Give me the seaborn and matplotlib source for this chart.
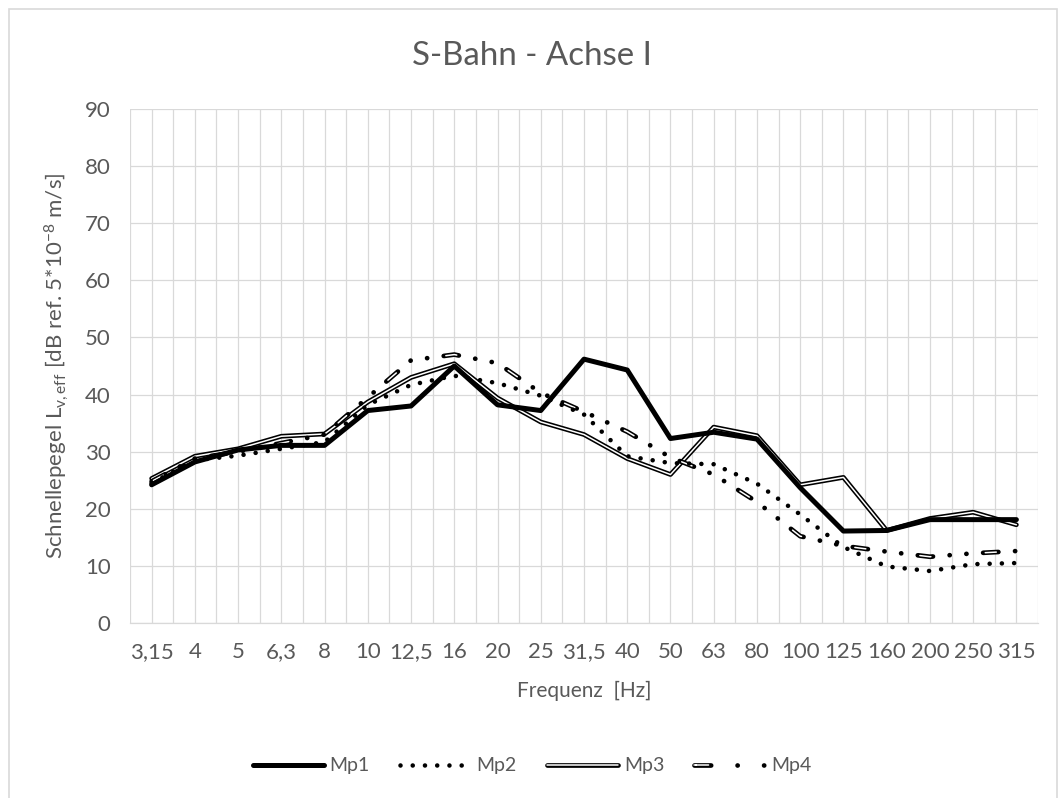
import pandas as pd
import matplotlib
matplotlib.use("Agg")
import matplotlib.pyplot as plt
import seaborn as sns
from matplotlib.lines import Line2D
from matplotlib.patches import Rectangle
from matplotlib.ticker import FixedLocator
from matplotlib.legend_handler import HandlerTuple

# Terzband-Mittenfrequenzen und Messwerte
freq = ["3,15", "4", "5", "6,3", "8", "10", "12,5", "16", "20", "25", "31,5",
        "40", "50", "63", "80", "100", "125", "160", "200", "250", "315"]
mp1 = [24.2, 28.2, 30.3, 31.1, 31.1, 37.2, 38.0, 45.0, 38.2, 37.2, 46.2,
       44.3, 32.3, 33.4, 32.2, 23.7, 16.1, 16.2, 18.1, 18.1, 18.1]
mp2 = [24.5, 28.5, 29.3, 30.5, 31.7, 38.2, 41.7, 43.3, 42.0, 39.8, 36.5,
       29.2, 28.0, 27.8, 24.4, 19.0, 13.3, 9.9, 9.1, 10.3, 10.5]
mp3 = [25.3, 29.2, 30.5, 32.7, 33.1, 38.7, 43.0, 45.4, 39.4, 35.2, 33.0,
       28.8, 26.0, 34.3, 32.8, 24.2, 25.5, 16.2, 18.3, 19.4, 17.2]
mp4 = [24.8, 28.8, 30.0, 31.5, 33.0, 39.5, 46.0, 47.0, 45.5, 40.3, 37.0,
       33.5, 29.0, 26.0, 21.2, 15.2, 13.5, 12.5, 11.6, 12.2, 12.6]

df = pd.DataFrame({"Frequenz": freq, "Mp1": mp1, "Mp2": mp2, "Mp3": mp3, "Mp4": mp4})

sns.set_theme(style="white")
plt.rcParams['font.family'] = ['Lato', 'DejaVu Sans']
plt.rcParams['mathtext.fontset'] = 'custom'
plt.rcParams['mathtext.rm'] = 'Lato'
plt.rcParams['mathtext.it'] = 'Lato:italic'
plt.rcParams['lines.scale_dashes'] = False

grey = '#595959'
gridc = '#d9d9d9'

# Linienstile (Excel-Nachbau)
period4 = 11 + 3 * 12 + 2 * 0.1
st1 = dict(color='black', lw=3.6, solid_capstyle='round')
st2 = dict(color='black', lw=3.3, linestyle=(0, (0.01, 8.8)), dash_capstyle='round')
st3a = dict(color='black', lw=3.4, solid_capstyle='round')
st3b = dict(color='white', lw=1.1, solid_capstyle='round')
st4a = dict(color='black', lw=3.4, linestyle=(0, (11, 12, 0.1, 12, 0.1, 12)),
            dash_capstyle='round')
st4b = dict(color='white', lw=1.1, linestyle=(period4 - 1.5, (8, period4 - 8)),
            dash_capstyle='round')
# Legendensymbol Mp4: Strich + zwei Punkte
leg4a = dict(st4a, linestyle=(0, (12, 19, 0.1, 19, 0.1, 30)))
leg4b = dict(st4b, linestyle=(0, (1.5, 0.01, 9, 70)))

fig = plt.figure(figsize=(10.64, 7.98), dpi=100)
ax = fig.add_axes([130 / 1064, 1 - 623 / 798, 908 / 1064, 514 / 798])

sns.lineplot(data=df, x="Frequenz", y="Mp3", ax=ax, sort=False, errorbar=None, **st3a)
sns.lineplot(data=df, x="Frequenz", y="Mp3", ax=ax, sort=False, errorbar=None, **st3b)
sns.lineplot(data=df, x="Frequenz", y="Mp4", ax=ax, sort=False, errorbar=None, **st4a)
sns.lineplot(data=df, x="Frequenz", y="Mp4", ax=ax, sort=False, errorbar=None, **st4b)
sns.lineplot(data=df, x="Frequenz", y="Mp2", ax=ax, sort=False, errorbar=None, **st2)
sns.lineplot(data=df, x="Frequenz", y="Mp1", ax=ax, sort=False, errorbar=None, **st1)

n = len(freq)
ax.set_xlim(-0.5, n - 0.5)
ax.set_ylim(0, 90)
ax.set_yticks(range(0, 91, 10))
ax.xaxis.set_minor_locator(FixedLocator([i - 0.5 for i in range(n + 1)]))
ax.grid(axis='x', which='both', color=gridc, lw=0.9)
ax.grid(axis='y', which='major', color=gridc, lw=0.9)
ax.set_axisbelow(True)
ax.tick_params(which='both', length=0, labelsize=16, labelcolor=grey)
ax.tick_params(axis='x', pad=14)
ax.tick_params(axis='y', pad=14)
for s in ['top', 'right', 'left']:
    ax.spines[s].set_visible(False)
ax.spines['bottom'].set_color(gridc)
ax.spines['bottom'].set_linewidth(0.9)

ax.set_xlabel("Frequenz  [Hz]", fontsize=15, color=grey, labelpad=13)
ax.set_ylabel(r"Schnellepegel L$_{\mathrm{v,eff}}$ [dB ref. 5*10$^{\mathrm{-8}}$ m/s]",
              fontsize=16, color=grey, labelpad=10)

fig.text(0.5, 1 - 56 / 798, "S-Bahn - Achse I", ha='center', va='center',
         fontsize=23.8, color=grey)

# Legende
handles = [Line2D([], [], **st1), Line2D([], [], **st2),
           (Line2D([], [], **st3a), Line2D([], [], **st3b)),
           (Line2D([], [], **leg4a), Line2D([], [], **leg4b))]
fig.legend(handles, ["Mp1", "Mp2", "Mp3", "Mp4"], loc='center', ncol=4,
           bbox_to_anchor=(0.5, 1 - 766 / 798), frameon=False, fontsize=14,
           labelcolor=grey, handlelength=3.65, handletextpad=0.3,
           columnspacing=1.55, handler_map={tuple: HandlerTuple(ndivide=1)})

fig.patches.append(Rectangle((9 / 1064, -0.01), 1048 / 1064, 1 - 9 / 798 + 0.01,
                             transform=fig.transFigure, fill=False,
                             edgecolor=gridc, lw=1.2))

fig.savefig("out.png", dpi=100)
